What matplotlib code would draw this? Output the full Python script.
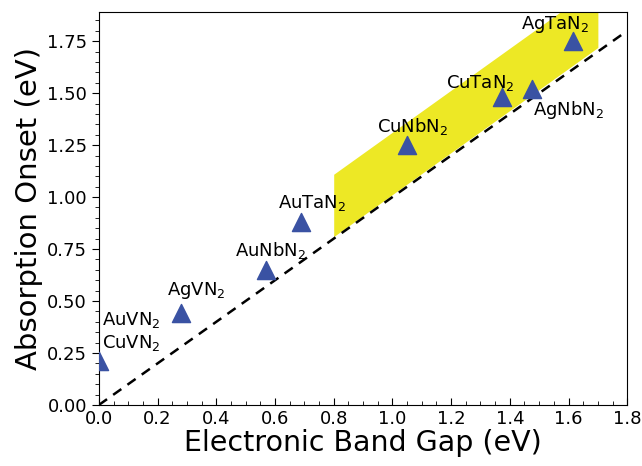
import matplotlib
matplotlib.use('Agg')
import matplotlib.pyplot as plt
from matplotlib.ticker import MultipleLocator

# compounds: band gap (x) vs absorption onset (y)
names = ['CuVN$_2$', 'AgVN$_2$', 'AuNbN$_2$', 'AuTaN$_2$', 'CuNbN$_2$',
         'CuTaN$_2$', 'AgNbN$_2$', 'AgTaN$_2$']
band_gap = [0.0, 0.28, 0.57, 0.69, 1.05, 1.375, 1.475, 1.615]
onset = [0.21, 0.44, 0.65, 0.88, 1.25, 1.48, 1.52, 1.75]

# label positions (centre of text)
label_xy = [(0.11, 0.30), (0.33, 0.55), (0.585, 0.745), (0.725, 0.97),
            (1.07, 1.34), (1.30, 1.55), (1.60, 1.42), (1.555, 1.83)]
extra_label = ('AuVN$_2$', 0.11, 0.41)

# shaded band
band_x = [0.8, 1.7]
band_lo = [0.81, 1.72]
band_hi = [1.11, 2.02]

fig = plt.figure(figsize=(6.42, 4.66), dpi=100)
ax = fig.add_axes([0.154, 0.131, 0.823, 0.843])

ax.fill_between(band_x, band_lo, band_hi, color='#ede825', linewidth=0, zorder=1)
ax.plot([0, 1.8], [0, 1.8], '--', color='black', lw=1.8, dashes=(4, 3), zorder=2)
ax.scatter(band_gap, onset, marker='^', s=170, color='#3a52a3', zorder=3,
           clip_on=True)

for name, (tx, ty) in zip(names, label_xy):
    ax.text(tx, ty, name, fontsize=13, ha='center', va='center', zorder=4)
ax.text(extra_label[1], extra_label[2], extra_label[0], fontsize=13,
        ha='center', va='center', zorder=4)

ax.set_xlim(0, 1.8)
ax.set_ylim(0, 1.89)
ax.xaxis.set_major_locator(MultipleLocator(0.2))
ax.xaxis.set_minor_locator(MultipleLocator(0.05))
ax.yaxis.set_major_locator(MultipleLocator(0.25))
ax.yaxis.set_minor_locator(MultipleLocator(0.05))
ax.tick_params(axis='x', which='both', direction='in', labelsize=13)
ax.tick_params(axis='y', which='both', direction='out', labelsize=13)
ax.tick_params(which='major', length=5)
ax.tick_params(which='minor', length=3)

ax.set_xlabel('Electronic Band Gap (eV)', fontsize=20.5, labelpad=1)
ax.set_ylabel('Absorption Onset (eV)', fontsize=21, labelpad=3)

fig.savefig('out.png', dpi=100)
